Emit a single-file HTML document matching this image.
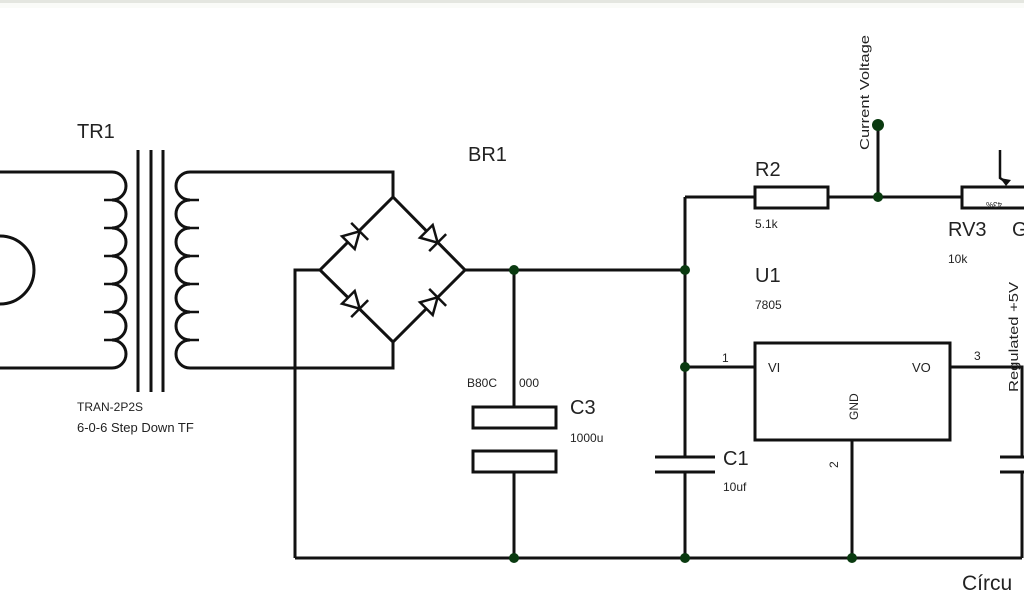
<!DOCTYPE html>
<html><head><meta charset="utf-8"><style>
html,body{margin:0;padding:0;background:#fff;}
svg{display:block;}
text{font-family:"Liberation Sans",Arial,sans-serif;fill:#222;}
</style></head><body>
<svg width="1024" height="600" viewBox="0 0 1024 600" xmlns="http://www.w3.org/2000/svg">
<rect x="0" y="0" width="1024" height="600" fill="#fff"/>
<rect x="0" y="0" width="1024" height="3" fill="#e4e6e0"/>
<rect x="0" y="3" width="1024" height="5" fill="#fafbf8"/>
<g stroke="#111" stroke-width="3" fill="none" stroke-linejoin="miter">
<path d="M0,236 A34,34 0 0 1 0,304"/>
<path d="M0,172 H112"/>
<path d="M0,368 H112"/>
<path d="M112,172 a14,14 0 0 1 0,28 a14,14 0 0 1 0,28 a14,14 0 0 1 0,28 a14,14 0 0 1 0,28 a14,14 0 0 1 0,28 a14,14 0 0 1 0,28 a14,14 0 0 1 0,28"/>
<path d="M112,200 h-8 M112,228 h-8 M112,256 h-8 M112,284 h-8 M112,312 h-8 M112,340 h-8" stroke-width="2.5"/>
<path d="M138,150 V392 M151,150 V392 M163,150 V392"/>
<path d="M190,172 a14,14 0 0 0 0,28 a14,14 0 0 0 0,28 a14,14 0 0 0 0,28 a14,14 0 0 0 0,28 a14,14 0 0 0 0,28 a14,14 0 0 0 0,28 a14,14 0 0 0 0,28"/>
<path d="M190,200 h9 M190,228 h9 M190,256 h9 M190,284 h9 M190,312 h9 M190,340 h9" stroke-width="2.5"/>
<path d="M190,172 H393 V197"/>
<path d="M190,368 H393 V342"/>
<path d="M393,197 L320,270 L393,342 L465,270 Z"/>
<path d="M320,270 H295 V558"/>
<path d="M465,270 H685"/>
<path d="M514,270 V407"/>
<rect x="473" y="407" width="83" height="21"/>
<rect x="473" y="451" width="83" height="21"/>
<path d="M514,472 V558"/>
<path d="M295,558 H1022"/>
<path d="M685,197 V457 M685,472 V558"/>
<path d="M655,457 H715 M655,472 H715"/>
<path d="M685,197 H755"/>
<rect x="755" y="187" width="73" height="21"/>
<path d="M828,197 H962"/>
<path d="M878,125 V197"/>
<rect x="962" y="187" width="70" height="21"/>
<path d="M1000,150 V178 L1006,182" stroke-width="2.5"/>
<rect x="755" y="343" width="195" height="97"/>
<path d="M685,367 H755"/>
<path d="M950,367 H1022 V457 M1022,472 V558"/>
<path d="M852,440 V558"/>
<path d="M1000,457 H1024 M1000,472 H1024"/>
</g>
<g fill="#fff" stroke="#111" stroke-width="2.5">
<g transform="translate(354,237) rotate(-45)"><path d="M-8,-9 L8,0 L-8,9 Z"/><path d="M8,-12 V12" fill="none"/></g>
<g transform="translate(432,237) rotate(45)"><path d="M-8,-9 L8,0 L-8,9 Z"/><path d="M8,-12 V12" fill="none"/></g>
<g transform="translate(354,303) rotate(45)"><path d="M8,-9 L-8,0 L8,9 Z" transform="rotate(180)"/><path d="M8,-12 V12" fill="none"/></g>
<g transform="translate(432,303) rotate(-45)"><path d="M-8,-9 L8,0 L-8,9 Z"/><path d="M8,-12 V12" fill="none"/></g>
</g>
<path d="M1000,178 l6,8 l5,-6 z" fill="#111"/>
<g fill="#0a3a10">
<circle cx="514" cy="270" r="5"/><circle cx="685" cy="270" r="5"/><circle cx="685" cy="367" r="5"/>
<circle cx="514" cy="558" r="5"/><circle cx="685" cy="558" r="5"/><circle cx="852" cy="558" r="5"/>
<circle cx="878" cy="197" r="5"/><circle cx="878" cy="125" r="6"/>
</g>
<text x="77" y="138" font-size="20">TR1</text>
<text x="77" y="411" font-size="12">TRAN-2P2S</text>
<text x="77" y="432" font-size="13">6-0-6 Step Down TF</text>
<text x="468" y="161" font-size="20">BR1</text>
<text x="467" y="387" font-size="12" fill="#444">B80C</text>
<text x="519" y="387" font-size="12" fill="#444">000</text>
<text x="570" y="414" font-size="20">C3</text>
<text x="570" y="442" font-size="12">1000u</text>
<text x="755" y="176" font-size="20">R2</text>
<text x="755" y="228" font-size="12">5.1k</text>
<text x="755" y="282" font-size="20">U1</text>
<text x="755" y="309" font-size="12">7805</text>
<text x="722" y="362" font-size="12">1</text>
<text x="768" y="372" font-size="13">VI</text>
<text x="912" y="372" font-size="13">VO</text>
<text x="974" y="360" font-size="12">3</text>
<text transform="translate(858,420) rotate(-90)" font-size="12">GND</text>
<text transform="translate(838,468) rotate(-90)" font-size="12">2</text>
<text x="723" y="465" font-size="20">C1</text>
<text x="723" y="491" font-size="12">10uf</text>
<text transform="translate(869,150) rotate(-90)" font-size="13" textLength="115" lengthAdjust="spacingAndGlyphs">Current Voltage</text>
<text x="948" y="236" font-size="20">RV3</text>
<text x="1012" y="236" font-size="20">G</text>
<text x="948" y="263" font-size="12">10k</text>
<text transform="translate(1002,202) rotate(180)" font-size="8" fill="#555">43%</text>
<text transform="translate(1018,392) rotate(-90)" font-size="13" textLength="110" lengthAdjust="spacingAndGlyphs">Regulated +5V</text>
<text x="962" y="590" font-size="21" fill="#666" font-family="DejaVu Sans">Círcu</text>
</svg>
</body></html>
